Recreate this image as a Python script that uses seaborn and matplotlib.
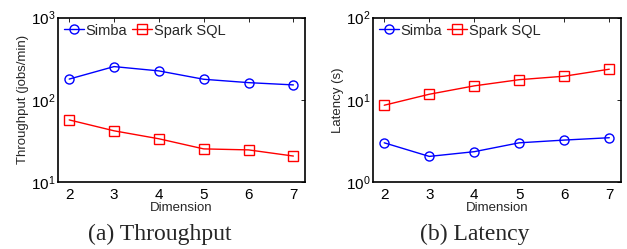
import matplotlib
matplotlib.use("Agg")
import matplotlib.pyplot as plt
import seaborn as sns
import pandas as pd
from matplotlib.lines import Line2D

dims = [2, 3, 4, 5, 6, 7]
series = ["Simba", "Spark SQL"]
thr_simba = [179, 254, 225, 178, 162, 152]
thr_spark = [57, 42, 33.6, 25.3, 24.6, 20.7]
lat_simba = [3.0, 2.05, 2.34, 3.0, 3.24, 3.46]
lat_spark = [8.6, 11.7, 14.8, 17.6, 19.4, 23.6]
captions = ["(a) Throughput", "(b) Latency"]
ylabels = ["Throughput (jobs/min)", "Latency (s)"]
ylims = [(10, 1000), (1, 100)]

sns.set_theme(style="white")
plt.rcParams['font.family'] = ['Liberation Sans', 'DejaVu Sans']
plt.rcParams['mathtext.fontset'] = 'custom'
plt.rcParams['mathtext.rm'] = 'Liberation Sans'
plt.rcParams['mathtext.it'] = 'Liberation Sans'

fig = plt.figure(figsize=(6.27, 2.49), dpi=100)
ax1 = fig.add_axes([0.0925, 0.269, 0.394, 0.660])
ax2 = fig.add_axes([0.5949, 0.269, 0.3955, 0.660])

colors = {"Simba": "#0000ff", "Spark SQL": "#ff0000"}
markers = {"Simba": "o", "Spark SQL": "s"}
msize = 6.5

datasets = [(thr_simba, thr_spark), (lat_simba, lat_spark)]
for i, (ax, (s1, s2)) in enumerate(zip([ax1, ax2], datasets)):
    df = pd.DataFrame({
        "Dimension": dims * 2,
        "value": s1 + s2,
        "series": [series[0]] * len(dims) + [series[1]] * len(dims),
    })
    sns.lineplot(data=df, x="Dimension", y="value", hue="series", style="series",
                 palette=colors, markers=markers, dashes=False, ax=ax,
                 markersize=msize, markerfacecolor="none", markeredgewidth=1.0,
                 linewidth=1.0, legend=False)
    for line in ax.get_lines():
        line.set_markerfacecolor("none")
        line.set_markeredgecolor(line.get_color())
    ax.set_yscale("log")
    ax.set_ylim(*ylims[i])
    ax.set_xlim(1.75, 7.26)
    ax.set_xticks(dims)
    ax.minorticks_off()
    ax.tick_params(axis="both", which="both", direction="in", top=True, right=True,
                   length=3, width=0.6, colors="black", labelsize=11, pad=4)
    ax.tick_params(axis="y", pad=2)
    for sp in ax.spines.values():
        sp.set_color("black")
        sp.set_linewidth(1.2)
    ax.set_xlabel("Dimension", fontsize=9.5, labelpad=0)
    ax.set_ylabel(ylabels[i], fontsize=9.5, labelpad=1)
    handles = [Line2D([], [], color=colors[s], marker=markers[s], markerfacecolor="none",
                      markersize=msize, linewidth=1.0) for s in series]
    ax.legend(handles, series, loc="upper left", ncol=2, frameon=False, fontsize=10.5,
              handlelength=1.4, handletextpad=0.1, columnspacing=0.3,
              borderaxespad=0.2, borderpad=0.2)

fig.text(160 / 627, 1 - 234 / 249, captions[0], ha="center", va="center",
         fontsize=17, family="Liberation Serif")
fig.text(475 / 627, 1 - 234 / 249, captions[1], ha="center", va="center",
         fontsize=17, family="Liberation Serif")

fig.savefig("out.png", dpi=100)
